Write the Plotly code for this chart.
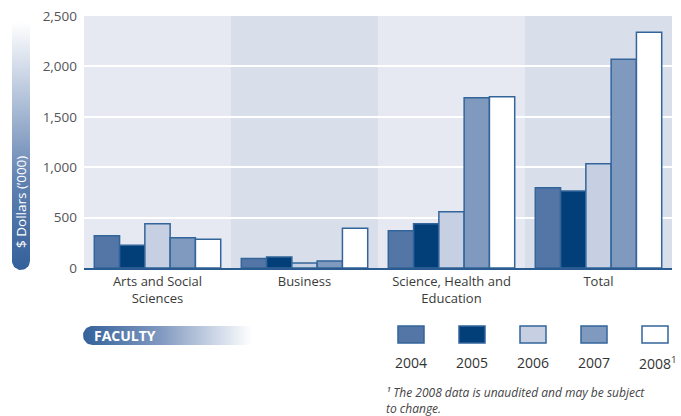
import math
import plotly.graph_objects as go

W, H = 681, 416

categories = ["Arts and Social<br>Sciences", "Business", "Science, Health and<br>Education", "Total"]
years = ["2004", "2005", "2006", "2007", "2008"]
legend_labels = ["2004", "2005", "2006", "2007", "2008<sup>1</sup>"]
values = {
    "2004": [320, 95, 370, 795],
    "2005": [225, 110, 440, 765],
    "2006": [440, 50, 557, 1035],
    "2007": [300, 70, 1690, 2070],
    "2008": [285, 395, 1700, 2340],
}
y_ticks = [0, 500, 1000, 1500, 2000, 2500]
colors = {"2004": "#5376A6", "2005": "#023F78", "2006": "#C7D0E3", "2007": "#7F99BF", "2008": "#FFFFFF"}
outline = "#33649A"
band_colors = ["#E6E9F2", "#D9DFEA", "#E6E9F2", "#D9DFEA"]
FONT = "Open Sans"

# plot area in pixels
PL, PR, PT, PB = 84, 672, 16, 268

fig = go.Figure()
for yr in years:
    fig.add_trace(go.Bar(
        x=categories, y=values[yr], name=yr,
        marker=dict(color=colors[yr], line=dict(color=outline, width=1.5)),
        xaxis="x", yaxis="y", showlegend=False,
    ))

shapes = []
for i, c in enumerate(band_colors):
    shapes.append(dict(type="rect", xref="x", yref="y domain", x0=i - 0.5, x1=i + 0.5,
                       y0=0, y1=1, fillcolor=c, line=dict(width=0), layer="below"))

# decorative gradient pills on a pixel overlay axis
def pill_vertical(x0, x1, ytop, ybot):
    r = (x1 - x0) / 2
    cx = (x0 + x1) / 2
    cy = ybot - r
    xs = [x0, x1, x1]
    ys = [ytop, ytop, cy]
    for k in range(0, 21):
        t = math.pi * k / 20
        xs.append(cx + r * math.cos(t))
        ys.append(cy + r * math.sin(t))
    xs.append(x0); ys.append(ytop)
    return xs, ys

def pill_horizontal(xl, xr, y0, y1):
    r = (y1 - y0) / 2
    cy = (y0 + y1) / 2
    cx = xl + r
    xs = [xr, xr, cx]
    ys = [y0, y1, y1]
    for k in range(0, 21):
        t = math.pi / 2 + math.pi * k / 20
        xs.append(cx + r * math.cos(t))
        ys.append(cy + r * math.sin(t))
    xs.append(xr); ys.append(y0)
    return xs, ys

vx, vy = pill_vertical(12, 30, 22, 270)
fig.add_trace(go.Scatter(
    x=vx, y=vy, mode="lines", fill="toself", line=dict(width=0),
    fillgradient=dict(type="vertical", start=270, stop=22,
                      colorscale=[[0, "#34609A"], [0.35, "#5F80B0"], [1, "#FFFFFF"]]),
    xaxis="x2", yaxis="y2", showlegend=False, hoverinfo="skip",
))
hx, hy = pill_horizontal(83, 252, 326, 345)
fig.add_trace(go.Scatter(
    x=hx, y=hy, mode="lines", fill="toself", line=dict(width=0),
    fillgradient=dict(type="horizontal", start=83, stop=252,
                      colorscale=[[0, "#33619A"], [0.45, "#7F98C0"], [1, "#FFFFFF"]]),
    xaxis="x2", yaxis="y2", showlegend=False, hoverinfo="skip",
))

annotations = []
annotations.append(dict(x=21, y=202, xref="x2", yref="y2", text="$ Dollars (’000)", textangle=-90,
                        showarrow=False, font=dict(family=FONT, size=13.5, color="white")))
annotations.append(dict(x=92, y=335.5, xref="x2", yref="y2", text="<b>FACULTY</b>", xanchor="left",
                        showarrow=False, font=dict(family=FONT, size=14, color="white")))

# legend
legend_x = [398, 459, 520, 581, 642]
for i, yr in enumerate(years):
    shapes.append(dict(type="rect", xref="x2", yref="y2", x0=legend_x[i], x1=legend_x[i] + 26,
                       y0=326, y1=343, fillcolor=colors[yr], line=dict(color=outline, width=1.5)))
    annotations.append(dict(x=legend_x[i] + 13 + (3 if i == 4 else 0), y=362.5, xref="x2", yref="y2",
                            text=legend_labels[i], showarrow=False,
                            font=dict(family=FONT, size=14, color="#333333")))

annotations.append(dict(x=384, y=392, xref="x2", yref="y2", xanchor="left",
                        text="<i>¹ The 2008 data is unaudited and may be subject</i>",
                        showarrow=False, font=dict(family=FONT, size=12, color="#444444")))
annotations.append(dict(x=384, y=408, xref="x2", yref="y2", xanchor="left",
                        text="<i>to change.</i>",
                        showarrow=False, font=dict(family=FONT, size=12, color="#444444")))

fig.update_layout(
    width=W, height=H,
    margin=dict(l=0, r=0, t=0, b=0, autoexpand=False),
    paper_bgcolor="white", plot_bgcolor="rgba(0,0,0,0)",
    barmode="group", bargap=0.14, bargroupgap=0,
    font=dict(family=FONT, color="#444444"),
    xaxis=dict(domain=[PL / W, PR / W], range=[-0.5, 3.5], showline=True, linecolor="#2B5C8F",
               linewidth=2, ticks="", tickfont=dict(size=13, color="#3A3A3A"), showgrid=False,
               anchor="y", automargin=False),
    yaxis=dict(domain=[1 - PB / H, 1 - PT / H], range=[0, 2500], tickvals=y_ticks,
               tickformat=",", showgrid=True, gridcolor="white", gridwidth=2, zeroline=False,
               tickfont=dict(size=13.5, color="#555555"), ticklabelstandoff=6, anchor="x",
               automargin=False),
    xaxis2=dict(domain=[0, 1], range=[0, W], visible=False, anchor="y2", fixedrange=True,
                automargin=False),
    yaxis2=dict(domain=[0, 1], range=[H, 0], visible=False, anchor="x2", fixedrange=True,
                automargin=False),
    shapes=shapes, annotations=annotations,
)

fig.write_html("out.html", config={"displayModeBar": False},
               post_script="document.body.style.margin='0';")
